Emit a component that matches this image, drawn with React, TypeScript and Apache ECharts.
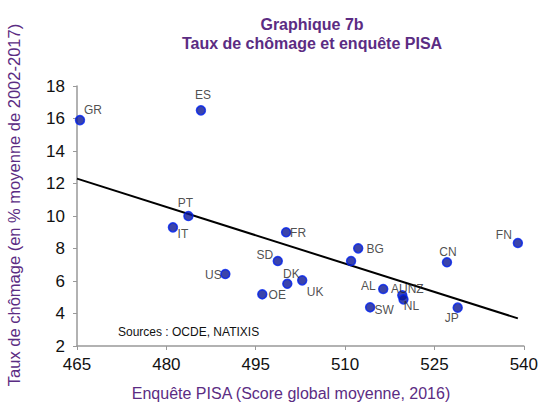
import React, { useEffect, useRef } from "react";
import * as echarts from "echarts";

const countries = ["GR", "ES", "PT", "IT", "FR", "SD", "US", "DK", "OE", "UK", "BG", "", "AL", "AUNZ", "NL", "SW", "JP", "CN", "FN"];
const pisaScore = [465.5, 485.8, 483.7, 481.1, 500.1, 498.7, 489.9, 500.3, 496.1, 502.8, 512.2, 511.0, 516.4, 519.6, 519.8, 514.2, 528.9, 527.1, 539.0];
const unemployment = [15.9, 16.5, 10.0, 9.3, 9.0, 7.23, 6.43, 5.83, 5.18, 6.04, 8.01, 7.23, 5.51, 5.12, 4.87, 4.38, 4.36, 7.15, 8.34];

const trendX = [465, 539];
const trendY = [12.3, 3.7];

const xTicks = [465, 480, 495, 510, 525, 540];
const yTicks = [2, 4, 6, 8, 10, 12, 14, 16, 18];

// label offsets (px) from the point centre
const labelOffsets: Record<string, [number, number]> = {
  GR: [13, -10], ES: [2, -15], PT: [-3, -13], IT: [10, 7], FR: [12, 1], SD: [-13, -6],
  US: [-12, 1], DK: [4, -10], OE: [15, 1], UK: [13, 12], BG: [17, 1], AL: [-15, -3],
  AUNZ: [5, -6], NL: [8, 7], SW: [14, 3], JP: [-6, 10], CN: [1, -10], FN: [-14, -8],
};

const purple = "#5B2C83";
const font = "Liberation Sans, Arial, sans-serif";

export default function App() {
  const ref = useRef<HTMLDivElement>(null);
  useEffect(() => {
    if (!ref.current) return;
    const chart = echarts.init(ref.current, null, { renderer: "svg" });
    const points = countries.map((c, i) => ({
      value: [pisaScore[i], unemployment[i]],
      label: {
        show: c !== "",
        formatter: c,
        position: "inside",
        offset: labelOffsets[c] || [0, 0],
        color: "#222",
        fontSize: 12,
        fontFamily: font,
      },
    }));
    chart.setOption({
      animation: false,
      backgroundColor: "#ffffff",
      title: {
        text: "Graphique 7b\nTaux de chômage et enquête PISA",
        left: 307,
        top: 10,
        textAlign: "center",
        textStyle: {
          color: purple,
          fontSize: 16,
          fontWeight: "bold",
          lineHeight: 19,
          fontFamily: font,
        },
      },
      grid: { left: 77, right: 14, top: 86, bottom: 57 },
      xAxis: {
        type: "value",
        min: 465,
        max: 540,
        interval: 15,
        axisLine: { lineStyle: { color: "#999", width: 1.5 } },
        axisTick: { show: true, length: 4, lineStyle: { color: "#999" } },
        splitLine: { show: false },
        axisLabel: {
          color: "#111",
          fontSize: 17,
          margin: 10,
          fontFamily: font,
          formatter: (v: number) => (xTicks.includes(v) ? String(v) : ""),
        },
      },
      yAxis: {
        type: "value",
        min: 2,
        max: 18,
        interval: 2,
        axisLine: { show: true, lineStyle: { color: "#999", width: 1.5 } },
        axisTick: { show: true, length: 4, lineStyle: { color: "#999" } },
        splitLine: { show: false },
        axisLabel: {
          color: "#111",
          fontSize: 17,
          margin: 12,
          fontFamily: font,
          formatter: (v: number) => (yTicks.includes(v) ? String(v) : ""),
        },
      },
      graphic: [
        {
          type: "text",
          x: 14,
          y: 205,
          rotation: Math.PI / 2,
          style: {
            text: "Taux de chômage (en % moyenne de 2002-2017)",
            fill: purple,
            fontSize: 16.5,
            fontFamily: font,
            align: "center",
            verticalAlign: "middle",
          },
        },
        {
          type: "text",
          x: 291,
          y: 393,
          style: {
            text: "Enquête PISA (Score global moyenne, 2016)",
            fill: purple,
            fontSize: 16,
            fontFamily: font,
            align: "center",
            verticalAlign: "middle",
          },
        },
        {
          type: "text",
          x: 118,
          y: 332,
          style: {
            text: "Sources : OCDE, NATIXIS",
            fill: "#111",
            fontSize: 12,
            fontFamily: font,
            align: "left",
            verticalAlign: "middle",
          },
        },
      ],
      series: [
        {
          type: "line",
          data: trendX.map((x, i) => [x, trendY[i]]),
          showSymbol: false,
          symbol: "none",
          lineStyle: { color: "#000", width: 2 },
          silent: true,
          z: 1,
        },
        {
          type: "scatter",
          data: points,
          symbolSize: 9,
          itemStyle: { color: "#0A1596", borderColor: "#0022EE", borderWidth: 1.5 },
          z: 2,
        },
      ],
    });
    return () => chart.dispose();
  }, []);
  return (
    <div
      ref={ref}
      style={{ position: "fixed", left: 0, top: 0, width: 541, height: 403 }}
    />
  );
}
